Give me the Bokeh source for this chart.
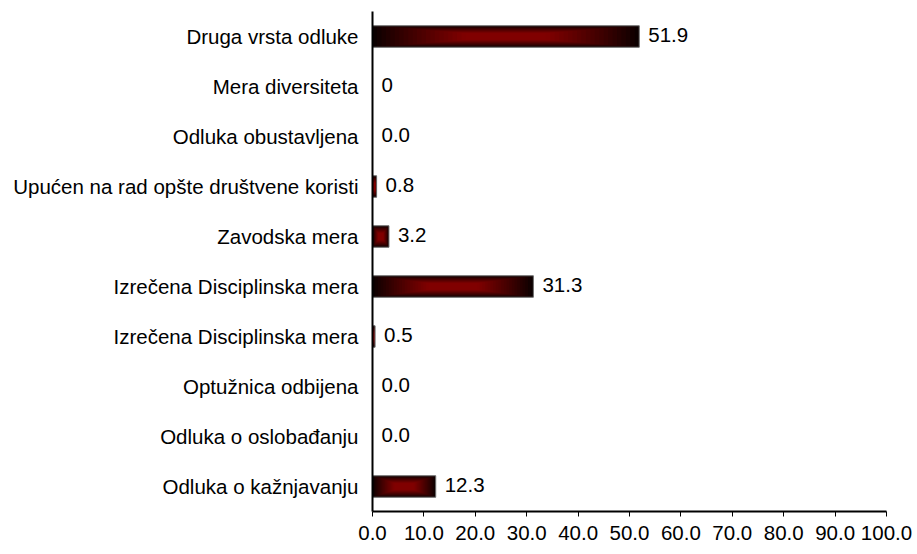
from bokeh.plotting import figure
from bokeh.models import ColumnDataSource, FixedTicker, Range1d
from bokeh.embed import file_html
from bokeh.resources import INLINE
from bokeh.core.properties import value

# ---- data (bottom to top) ----
categories = [
    "Odluka o kažnjavanju",
    "Odluka o oslobađanju",
    "Optužnica odbijena",
    "Izrečena Disciplinska mera",
    "Izrečena Disciplinska mera",
    "Zavodska mera",
    "Upućen na rad opšte društvene koristi",
    "Odluka obustavljena",
    "Mera diversiteta",
    "Druga vrsta odluke",
]
values = [12.3, 0.0, 0.0, 0.5, 31.3, 3.2, 0.8, 0.0, 0.0, 51.9]
value_labels = ["12.3", "0.0", "0.0", "0.5", "31.3", "3.2", "0.8", "0.0", "0", "51.9"]
x_ticks = [0, 10, 20, 30, 40, 50, 60, 70, 80, 90, 100]
x_tick_labels = ["0.0", "10.0", "20.0", "30.0", "40.0", "50.0", "60.0", "70.0", "80.0", "90.0", "100.0"]

FONT = "Liberation Sans"
FS = "20.5px"
BAR_H = 0.43
N_STEPS = 30
EDGE = (12, 0, 0)
CENTER = (128, 0, 0)

positions = list(range(len(categories)))

p = figure(width=917, height=554, output_backend="svg", toolbar_location=None,
           x_range=Range1d(0, 100), y_range=Range1d(-0.5, 9.5),
           min_border_left=372, min_border_right=31, min_border_top=11, min_border_bottom=43)
p.outline_line_color = None
p.grid.visible = False
p.background_fill_color = "white"
p.border_fill_color = "white"

# gradient bars as concentric rectangles (dark rim -> red centre)
lefts, rights, ys, hs, colors = [], [], [], [], []
for k in range(N_STEPS):
    f = 1.0 - k / N_STEPS
    t = min(1.0, (k / (N_STEPS - 1)) / 0.7) ** 0.9
    c = tuple(int(EDGE[j] + (CENTER[j] - EDGE[j]) * t) for j in range(3))
    col = "#%02x%02x%02x" % c
    for pos, v in zip(positions, values):
        if v <= 0:
            continue
        lefts.append(v * (1 - f) / 2)
        rights.append(v * (1 + f) / 2)
        ys.append(pos)
        hs.append(BAR_H * f)
        colors.append(col)
src = ColumnDataSource(dict(left=lefts, right=rights, y=ys, h=hs, c=colors))
p.hbar(y="y", left="left", right="right", height="h", fill_color="c", line_color=None, source=src)

nz = [(pos, v) for pos, v in zip(positions, values) if v > 0]
osrc = ColumnDataSource(dict(y=[a for a, _ in nz], right=[b for _, b in nz]))
p.hbar(y="y", left=0, right="right", height=BAR_H, fill_color=None,
       line_color="#6e6e6e", line_width=1, source=osrc)

# value labels
lsrc = ColumnDataSource(dict(x=values, y=positions, t=value_labels))
p.text(x="x", y="y", text="t", source=lsrc, x_offset=9, y_offset=-2,
       text_font=value(FONT), text_font_size=FS, text_baseline="middle",
       text_align="left", text_color="black")

# axes
xa = p.xaxis[0]
xa.ticker = FixedTicker(ticks=x_ticks)
xa.major_label_overrides = {t: l for t, l in zip(x_ticks, x_tick_labels)}
xa.minor_tick_line_color = None
xa.major_tick_in = 0
xa.major_tick_out = 5
xa.axis_line_width = 2
xa.major_tick_line_width = 1
xa.major_label_standoff = 9
xa.major_label_text_font = FONT
xa.major_label_text_font_size = FS
xa.major_label_text_color = "black"

ya = p.yaxis[0]
ya.ticker = FixedTicker(ticks=positions)
ya.major_label_overrides = {pos: c for pos, c in zip(positions, categories)}
ya.minor_tick_line_color = None
ya.major_tick_line_color = None
ya.major_tick_in = 0
ya.major_tick_out = 0
ya.axis_line_width = 2
ya.major_label_standoff = 14
ya.major_label_text_font = FONT
ya.major_label_text_font_size = FS
ya.major_label_text_color = "black"

open("out.html", "w").write(file_html(p, INLINE))
